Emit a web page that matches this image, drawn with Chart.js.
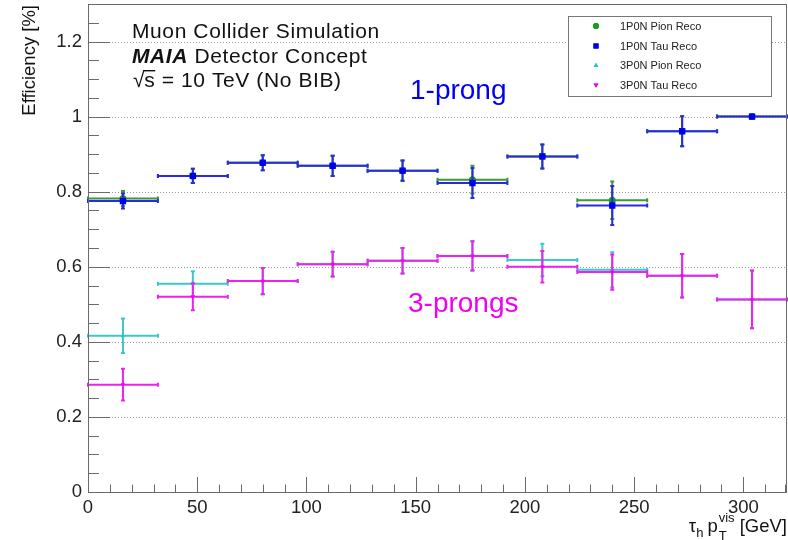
<!DOCTYPE html>
<html><head><meta charset="utf-8">
<script src="https://cdn.jsdelivr.net/npm/chart.js@4"></script>
<style>html,body{margin:0;padding:0;background:#fff}#wrap{width:788px;height:540px}</style>
</head><body><div id="wrap"><canvas id="c" width="788" height="540"></canvas></div>
<script>
// ---- data ----
const binEdges = [0, 32, 64, 96, 128, 160, 192, 224, 256, 288, 320];
const seriesNames = ['1P0N Pion Reco', '1P0N Tau Reco', '3P0N Pion Reco', '3P0N Tau Reco'];
const pion1P    = [0.782, 0.842, 0.877, 0.869, 0.856, 0.832, 0.894, 0.777, 0.961, 1.000];
const pion1PErr = [0.020, 0.019, 0.020, 0.027, 0.027, 0.037, 0.032, 0.050, 0.040, 0.000];
const tau1P     = [0.775, 0.842, 0.877, 0.869, 0.856, 0.823, 0.894, 0.763, 0.961, 1.000];
const tau1PErr  = [0.020, 0.019, 0.020, 0.027, 0.027, 0.040, 0.032, 0.052, 0.040, 0.000];
const pion3P    = [0.416, 0.555, 0.562, 0.607, 0.616, 0.629, 0.618, 0.592, 0.576, 0.513];
const pion3PErr = [0.046, 0.033, 0.035, 0.033, 0.034, 0.039, 0.043, 0.047, 0.058, 0.077];
const tau3P     = [0.286, 0.520, 0.562, 0.607, 0.616, 0.629, 0.600, 0.586, 0.576, 0.513];
const tau3PErr  = [0.042, 0.036, 0.035, 0.033, 0.034, 0.039, 0.042, 0.047, 0.058, 0.077];
const xTickValues = [0, 50, 100, 150, 200, 250, 300];
const xTickLabels = ['0', '50', '100', '150', '200', '250', '300'];
const yTickValues = [0, 0.2, 0.4, 0.6, 0.8, 1, 1.2];
const yTickLabels = ['0', '0.2', '0.4', '0.6', '0.8', '1', '1.2'];

// ---- styles ----
const FONT = '"Liberation Sans", Arial, sans-serif';
const markerColors = ['#1c9c1c', '#0000f0', '#22c8c8', '#f000f0'];
const lineColors   = ['#3a9a3a', '#2a2ae0', '#3cc8c8', '#f020f0'];
const pointStyles  = ['circle', 'rect', 'triangle', 'triangle'];
const pointRot     = [0, 0, 0, 180];
const pointRadii   = [3.5, 4.5, 2.6, 2.6];

const centers = binEdges.slice(0, -1).map((e, i) => (e + binEdges[i + 1]) / 2);
const values = [pion1P, tau1P, pion3P, tau3P];
const errors = [pion1PErr, tau1PErr, pion3PErr, tau3PErr];

const datasets = values.map((vals, i) => ({
  label: seriesNames[i],
  order: values.length - i,
  data: centers.map((x, j) => ({ x: x, y: vals[j] })),
  showLine: false,
  pointStyle: pointStyles[i],
  rotation: pointRot[i],
  pointRadius: pointRadii[i],
  pointBackgroundColor: markerColors[i],
  pointBorderColor: markerColors[i],
  pointBorderWidth: 0
}));

const rootStyle = {
  id: 'rootStyle',
  beforeDatasetsDraw(chart) {
    const { ctx, chartArea: a, scales: { y } } = chart;
    ctx.save();
    ctx.strokeStyle = '#9a9a9a';
    ctx.lineWidth = 1;
    ctx.setLineDash([1, 2]);
    yTickValues.forEach(v => {
      if (v === 0) return;
      const py = Math.round(y.getPixelForValue(v)) + 0.5;
      ctx.beginPath(); ctx.moveTo(a.left, py); ctx.lineTo(a.right, py); ctx.stroke();
    });
    ctx.restore();
  },
  beforeDatasetDraw(chart, args) {
    const i = args.index;
    const { ctx, scales: { x, y } } = chart;
    const vals = values[i], errs = errors[i];
    ctx.save();
    ctx.strokeStyle = lineColors[i];
    ctx.lineWidth = 2;
    const cap = 2;
    vals.forEach((v, j) => {
      const xl = x.getPixelForValue(binEdges[j]);
      const xr = x.getPixelForValue(binEdges[j + 1]);
      const xc = x.getPixelForValue(centers[j]);
      const yc = y.getPixelForValue(v);
      ctx.beginPath();
      ctx.moveTo(xl, yc); ctx.lineTo(xr, yc);
      ctx.moveTo(xl, yc - cap); ctx.lineTo(xl, yc + cap);
      ctx.moveTo(xr, yc - cap); ctx.lineTo(xr, yc + cap);
      if (errs[j] > 0) {
        const yt = y.getPixelForValue(v + errs[j]);
        const yb = y.getPixelForValue(v - errs[j]);
        ctx.moveTo(xc, yt); ctx.lineTo(xc, yb);
        ctx.moveTo(xc - cap, yt); ctx.lineTo(xc + cap, yt);
        ctx.moveTo(xc - cap, yb); ctx.lineTo(xc + cap, yb);
      }
      ctx.stroke();
    });
    ctx.restore();
  },
  afterDraw(chart) {
    const { ctx, chartArea: a, scales: { x, y } } = chart;
    ctx.save();
    // frame
    ctx.strokeStyle = '#6a6a6a';
    ctx.lineWidth = 1;
    ctx.strokeRect(Math.round(a.left) + 0.5, Math.round(a.top) + 0.5,
                   Math.round(a.right - a.left) - 1, Math.round(a.bottom - a.top));
    // ticks (inward)
    ctx.beginPath();
    for (let v = 0; v <= 1.3001; v += 0.05) {
      const major = Math.abs(v / 0.2 - Math.round(v / 0.2)) < 1e-6;
      const py = Math.round(y.getPixelForValue(v)) + 0.5;
      ctx.moveTo(a.left, py); ctx.lineTo(a.left + (major ? 22 : 11), py);
    }
    for (let v = 0; v <= 320; v += 10) {
      const major = v % 50 === 0;
      const px = Math.min(Math.round(x.getPixelForValue(v)) + 0.5, a.right - 1.5);
      ctx.moveTo(px, a.bottom); ctx.lineTo(px, a.bottom - (major ? 15 : 7.5));
    }
    ctx.stroke();

    // legend box
    const lx = 568, ly = 16, lw = 203, lh = 80;
    ctx.fillStyle = '#fff';
    ctx.fillRect(lx, ly, lw, lh);
    ctx.strokeStyle = '#777';
    ctx.strokeRect(lx + 0.5, ly + 0.5, lw, lh);
    const rows = [26, 46, 65.5, 85];
    const legR = [3, 3.6, 2.8, 2.8];
    seriesNames.forEach((name, i) => {
      ctx.fillStyle = markerColors[i];
      ctx.strokeStyle = markerColors[i];
      Chart.helpers.drawPoint(ctx, { pointStyle: pointStyles[i], rotation: pointRot[i], radius: legR[i], borderWidth: 0 }, 596, rows[i]);
      ctx.fill();
      ctx.fillStyle = '#222';
      ctx.font = '11px ' + FONT;
      ctx.textAlign = 'left';
      ctx.textBaseline = 'middle';
      ctx.fillText(name, 620, rows[i] + 0.5);
    });

    // header text
    ctx.fillStyle = '#111';
    ctx.textBaseline = 'alphabetic';
    ctx.textAlign = 'left';
    ctx.letterSpacing = '0.6px';
    ctx.font = '21px ' + FONT;
    ctx.fillText('Muon Collider Simulation', 132, 38);
    ctx.font = 'italic bold 21px ' + FONT;
    ctx.fillText('MAIA', 132, 63);
    let w = ctx.measureText('MAIA').width;
    ctx.font = '21px ' + FONT;
    ctx.fillText(' Detector Concept', 132 + w, 63);
    ctx.fillText('√', 133, 87);
    const ws = ctx.measureText('√').width;
    ctx.fillText('s', 133 + ws - 1, 87);
    const wss = ctx.measureText('s').width;
    ctx.fillRect(133 + ws - 2, 70, wss + 1, 1.4);
    ctx.fillText(' = 10 TeV (No BIB)', 133 + ws - 1 + wss, 87);
    ctx.letterSpacing = '0px';

    // annotations
    ctx.font = '28px ' + FONT;
    ctx.fillStyle = '#0000f0';
    ctx.fillText('1-prong', 410, 99);
    ctx.fillStyle = '#f000f0';
    ctx.fillText('3-prongs', 408, 312);

    // y axis title
    ctx.fillStyle = '#111';
    ctx.save();
    ctx.translate(30, 5);
    ctx.rotate(-Math.PI / 2);
    ctx.textAlign = 'right';
    ctx.textBaseline = 'middle';
    ctx.font = '18.5px ' + FONT;
    ctx.fillText('Efficiency [%]', 0, 0);
    ctx.restore();

    // x axis title: τ_h p_T^vis [GeV]
    const big = '18.5px ' + FONT, small = '13px ' + FONT;
    const base = 532;
    ctx.textAlign = 'left';
    ctx.textBaseline = 'alphabetic';
    ctx.font = big; const wTau = ctx.measureText('τ').width;
    ctx.font = small; const wh = ctx.measureText('h').width;
    ctx.font = big; const wp = ctx.measureText('p').width;
    ctx.font = small; const wvis = Math.max(ctx.measureText('vis').width, ctx.measureText('T').width);
    ctx.font = big; const wgev = ctx.measureText(' [GeV]').width;
    const gap = 4;
    const total = wTau + wh + gap + wp + 1 + wvis + wgev;
    let cx = 787 - total;
    ctx.font = big; ctx.fillText('τ', cx, base); cx += wTau;
    ctx.font = small; ctx.fillText('h', cx, base + 5); cx += wh + gap;
    ctx.font = big; ctx.fillText('p', cx, base); cx += wp + 1;
    ctx.font = small; ctx.fillText('vis', cx, base - 10); ctx.fillText('T', cx, base + 8); cx += wvis;
    ctx.font = big; ctx.fillText(' [GeV]', cx, base);
    ctx.restore();
  }
};

new Chart(document.getElementById('c'), {
  type: 'scatter',
  data: { datasets },
  options: {
    responsive: false,
    animation: false,
    devicePixelRatio: 1,
    layout: { autoPadding: false, padding: { left: 0, right: 1, top: 4, bottom: 0 } },
    plugins: { legend: { display: false }, tooltip: { enabled: false } },
    scales: {
      x: {
        type: 'linear', min: 0, max: 320,
        afterBuildTicks: s => { s.ticks = xTickValues.map(v => ({ value: v })); },
        afterFit: s => { s.height = 48; s.paddingLeft = 0; s.paddingRight = 0; },
        grid: { display: false, drawTicks: false },
        border: { display: false },
        ticks: {
          autoSkip: false, maxRotation: 0, padding: 5, color: '#222',
          font: { family: FONT, size: 18.5 },
          callback: (v) => xTickLabels[xTickValues.indexOf(v)]
        }
      },
      y: {
        type: 'linear', min: 0, max: 1.3,
        afterBuildTicks: s => { s.ticks = yTickValues.map(v => ({ value: v })); },
        afterFit: s => { s.width = 88; s.paddingTop = 0; s.paddingBottom = 0; },
        grid: { display: false, drawTicks: false },
        border: { display: false },
        ticks: {
          autoSkip: false, padding: 6, color: '#222',
          font: { family: FONT, size: 18.5 },
          callback: (v) => yTickLabels[yTickValues.indexOf(v)]
        }
      }
    }
  },
  plugins: [rootStyle]
});
</script>
</body></html>
